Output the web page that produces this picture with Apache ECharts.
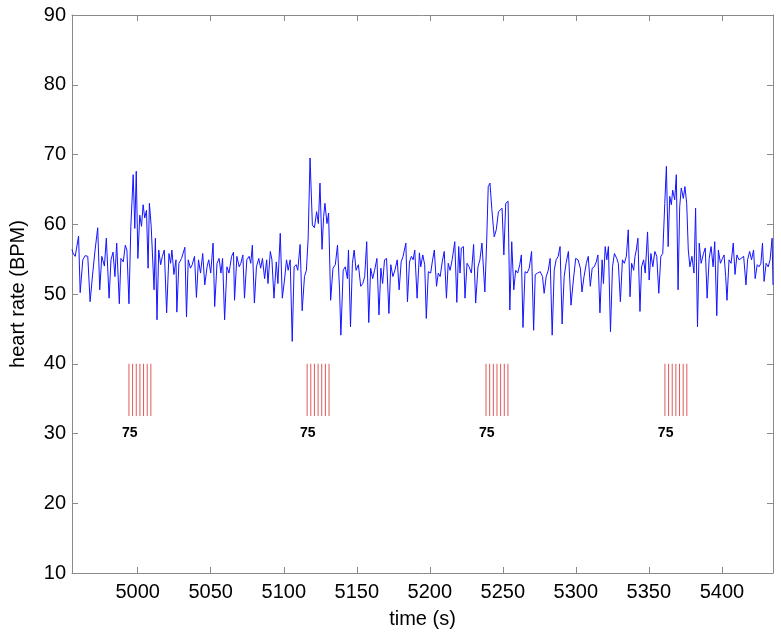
<!DOCTYPE html>
<html>
<head>
<meta charset="utf-8">
<script src="https://cdn.jsdelivr.net/npm/echarts@6/dist/echarts.min.js"></script>
<style>
  html, body { margin: 0; padding: 0; background: #fff; }
  #chart { width: 781px; height: 637px; }
</style>
</head>
<body>
<div id="chart"></div>
<script>
/* heart rate trace */
let hrTime = [
    4955.0, 4955.6, 4957.2, 4959.5, 4960.6, 4962.4, 4964.0, 4965.8, 4967.4, 4969.2,
    4970.8, 4972.6, 4974.0, 4975.4, 4977.2, 4978.5, 4980.4, 4981.7, 4983.1, 4984.4,
    4985.6, 4987.4, 4988.5, 4990.1, 4991.5, 4992.6, 4994.0, 4995.3, 4996.9, 4998.0,
    4999.0, 5000.1, 5001.4, 5002.6, 5003.7, 5004.8, 5006.0, 5007.1, 5008.0, 5009.2,
    5010.3, 5011.2, 5012.1, 5013.2, 5014.4, 5015.7, 5016.9, 5018.2, 5019.8, 5021.4,
    5022.5, 5023.4, 5024.8, 5026.2, 5026.8, 5028.2, 5030.0, 5032.3, 5033.4, 5034.6,
    5036.1, 5037.3, 5038.9, 5040.2, 5041.6, 5043.0, 5044.5, 5045.9, 5047.5, 5048.6,
    5050.0, 5051.6, 5052.7, 5054.3, 5055.7, 5057.0, 5058.1, 5059.5, 5061.1, 5062.5,
    5064.3, 5065.6, 5066.3, 5067.9, 5069.5, 5070.6, 5072.0, 5073.1, 5074.7, 5076.3,
    5077.4, 5078.5, 5079.9, 5081.3, 5082.9, 5084.2, 5085.4, 5086.9, 5088.3, 5089.2,
    5090.8, 5091.9, 5093.3, 5094.9, 5096.0, 5097.6, 5099.0, 5100.5, 5101.9, 5103.0,
    5104.4, 5105.8, 5107.1, 5108.5, 5109.6, 5111.2, 5112.6, 5114.2, 5115.5, 5116.7,
    5118.0, 5119.6, 5121.0, 5122.5, 5123.7, 5124.8, 5126.2, 5127.3, 5128.2, 5129.6,
    5130.7, 5132.1, 5133.7, 5135.3, 5136.8, 5138.2, 5139.1, 5140.7, 5142.1, 5143.6,
    5144.3, 5145.7, 5147.0, 5148.2, 5149.5, 5151.1, 5152.7, 5154.1, 5155.4, 5156.8,
    5158.2, 5159.5, 5160.9, 5162.2, 5163.8, 5165.2, 5166.5, 5167.7, 5169.0, 5170.4,
    5172.0, 5173.3, 5174.7, 5176.1, 5177.7, 5179.0, 5180.4, 5181.7, 5183.6, 5184.7,
    5186.1, 5187.4, 5188.6, 5189.7, 5191.3, 5192.9, 5193.8, 5195.2, 5196.5, 5197.6,
    5199.0, 5200.6, 5201.7, 5203.1, 5204.6, 5205.8, 5207.1, 5208.5, 5209.9, 5211.4,
    5212.6, 5213.9, 5215.3, 5217.1, 5218.5, 5219.8, 5220.7, 5221.6, 5223.0, 5224.1,
    5225.5, 5226.9, 5228.5, 5230.0, 5231.4, 5233.0, 5234.3, 5235.7, 5236.8, 5237.7,
    5238.9, 5240.0, 5241.2, 5242.5, 5244.1, 5245.5, 5247.0, 5248.2, 5249.5, 5250.7,
    5252.0, 5253.6, 5254.8, 5256.1, 5257.5, 5258.8, 5260.2, 5261.6, 5262.7, 5263.8,
    5265.2, 5266.6, 5268.1, 5269.7, 5271.1, 5272.2, 5273.8, 5275.6, 5277.2, 5278.3,
    5279.7, 5281.1, 5282.4, 5283.8, 5285.2, 5286.5, 5287.9, 5289.2, 5290.6, 5292.0,
    5293.3, 5294.9, 5296.7, 5298.3, 5299.9, 5301.5, 5303.1, 5304.2, 5305.6, 5307.2,
    5308.5, 5309.9, 5311.2, 5312.6, 5314.0, 5315.1, 5316.5, 5318.0,
    5318.9, 5320.1, 5321.2, 5322.3, 5323.7, 5325.1, 5326.4, 5328.0, 5329.1, 5330.5,
    5331.9, 5333.2, 5334.6, 5335.9, 5337.1, 5338.2, 5339.6, 5340.5, 5341.4, 5342.5,
    5343.9, 5345.0, 5346.4, 5347.5, 5349.1, 5350.2, 5351.4, 5352.7, 5354.1, 5355.4,
    5356.8, 5358.2, 5359.5, 5360.9, 5362.0, 5363.2, 5364.3, 5365.4, 5366.3, 5367.7,
    5368.8, 5370.0, 5371.1, 5372.2, 5373.6, 5374.7, 5375.9, 5377.0, 5378.1, 5379.5,
    5380.9, 5382.0, 5383.3, 5384.5, 5385.8, 5387.4, 5388.6, 5389.9, 5391.3, 5392.6,
    5394.0, 5395.1, 5396.5, 5397.6, 5399.0, 5400.4, 5401.5, 5402.6, 5403.5, 5404.9,
    5406.3, 5407.8, 5409.0, 5410.3, 5411.7, 5413.1, 5414.9, 5416.5, 5417.6, 5419.0,
    5420.3, 5421.7, 5422.8, 5424.2, 5425.5, 5426.7, 5427.8, 5428.9, 5430.3, 5431.7,
    5433.0, 5434.4, 5435.0
];
let hrValue = [
    56.4, 55.9, 55.4, 58.3, 50.2, 54.9, 55.5, 55.4, 48.9, 53.0,
    56.3, 59.5, 50.6, 55.4, 54.0, 58.0, 49.4, 54.9, 56.0, 52.5,
    57.3, 48.6, 55.1, 54.6, 57.0, 56.3, 48.6, 59.7, 67.1, 59.4,
    67.6, 55.1, 61.3, 59.7, 62.8, 60.9, 62.0, 53.7, 63.0, 59.8,
    59.7, 50.6, 58.0, 46.3, 56.3, 54.2, 55.4, 56.3, 47.3, 55.8,
    54.4, 56.3, 52.8, 54.9, 47.4, 54.4, 55.1, 56.7, 46.7, 54.9,
    53.7, 54.2, 55.4, 49.5, 54.9, 53.0, 55.8, 51.3, 53.9, 54.9,
    53.0, 57.3, 48.2, 54.4, 55.1, 53.0, 55.1, 46.3, 53.9, 53.0,
    55.4, 56.0, 49.1, 55.4, 53.9, 54.4, 55.6, 49.4, 54.9, 55.4,
    54.4, 57.0, 48.7, 53.9, 55.1, 53.7, 55.1, 52.2, 54.9, 51.5,
    56.1, 54.9, 49.4, 54.6, 51.5, 58.7, 49.4, 52.0, 54.9, 53.4,
    54.9, 43.2, 53.9, 54.2, 53.4, 57.1, 47.6, 52.5, 53.4, 58.0,
    69.5, 59.9, 59.5, 61.8, 60.1, 65.9, 56.4, 61.1, 63.0, 60.1,
    61.6, 49.1, 53.7, 54.2, 57.0, 50.6, 44.1, 53.4, 53.9, 52.2,
    56.3, 45.3, 54.4, 56.3, 53.4, 54.2, 51.1, 51.5, 52.5, 57.5,
    45.9, 53.7, 52.2, 53.4, 55.1, 47.0, 53.7, 51.5, 54.9, 55.1,
    47.2, 54.2, 52.5, 53.4, 54.9, 50.6, 54.6, 55.4, 57.3, 48.9,
    54.6, 55.4, 54.9, 56.3, 49.4, 55.9, 53.9, 55.6, 54.2, 46.5,
    53.2, 53.0, 54.6, 56.3, 51.1, 53.0, 52.5, 54.6, 56.1, 49.4,
    54.4, 53.4, 54.9, 57.5, 48.8, 56.8, 53.0, 56.6, 56.8, 49.4,
    54.4, 53.9, 53.0, 57.1, 48.7, 53.9, 54.9, 57.3, 57.5, 50.3,
    57.3, 65.4, 65.9, 62.1, 58.2, 59.2, 61.8, 61.6, 62.3, 55.6,
    63.0, 63.3, 47.7, 57.5, 50.6, 53.4, 53.0, 54.2, 55.6, 45.2,
    53.2, 53.0, 53.7, 56.1, 44.8, 52.8, 53.0, 53.2, 52.5, 50.1,
    52.5, 53.4, 55.1, 44.1, 53.4, 54.9, 55.4, 56.8, 45.7, 52.5,
    54.4, 56.1, 48.4, 52.0, 55.1, 54.9, 53.7, 50.3, 52.5, 54.4,
    55.4, 51.1, 53.7, 53.9, 54.6, 55.6, 47.3, 54.9,
    51.5, 56.8, 54.9, 56.8, 44.6, 53.9, 55.8, 55.1, 54.4, 48.9,
    54.9, 54.4, 55.4, 59.2, 49.6, 54.4, 53.4, 55.4, 56.3, 58.0,
    47.5, 53.9, 54.9, 53.0, 58.9, 52.0, 55.8, 53.9, 56.1, 55.4,
    50.1, 55.4, 55.8, 63.0, 68.3, 56.8, 64.0, 62.8, 64.9, 63.5,
    67.1, 50.6, 62.5, 65.2, 63.7, 65.4, 63.0, 56.3, 53.9, 55.4,
    53.0, 62.3, 45.3, 57.3, 54.4, 55.8, 56.6, 49.4, 55.1, 56.8,
    53.9, 57.5, 46.9, 56.3, 54.4, 55.1, 55.6, 52.5, 49.1, 54.9,
    54.4, 57.3, 52.8, 55.6, 54.9, 55.1, 55.4, 51.3, 54.9, 56.1,
    54.9, 56.3, 52.2, 54.2, 53.9, 54.4, 57.3, 51.8, 54.4, 53.9,
    54.9, 58.0, 51.3
];

/* stimulus bursts: onset of each burst, pulse offsets inside a burst, label */
let burstOnset = [4994, 5116, 5238.5, 5361];
let pulseOffset = [0, 2.5, 5, 7.5, 10, 12.5, 15];
let burstLabel = ['75', '75', '75', '75'];
let pulseRange = [32.5, 40];
let labelLevel = 30;

/* axes */
let xMin = 4955, xMax = 5435;
let xTicks = [5000, 5050, 5100, 5150, 5200, 5250, 5300, 5350, 5400];
let yMin = 10, yMax = 90, yStep = 10;

let hrData = hrTime.map((t, i) => [t, hrValue[i]]);
let pulseData = [];
burstOnset.forEach(t0 => pulseOffset.forEach(dt => pulseData.push([t0 + dt])));
let labelData = burstOnset.map((t0, i) => ({ value: [t0 + 0.5, labelLevel], name: burstLabel[i] }));

const font = '"Liberation Sans", Arial, Helvetica, sans-serif';
const axisGray = '#8a8a8a';

var chart = echarts.init(document.getElementById('chart'));
option = {
    backgroundColor: '#ffffff',
    animation: false,
    grid: {
        left: 67,
        right: 8,
        top: 15,
        bottom: 64
    },
    xAxis: [
        {
            type: 'value',
            min: xMin,
            max: xMax,
            name: 'time (s)',
            nameLocation: 'middle',
            nameGap: 36,
            nameTextStyle: { fontFamily: font, fontSize: 20, color: '#000' },
            axisLine: { lineStyle: { color: axisGray, width: 1 } },
            axisTick: { inside: true, length: 6, customValues: xTicks, lineStyle: { color: axisGray } },
            axisLabel: {
                customValues: xTicks,
                formatter: v => String(v),
                fontFamily: font, fontSize: 20, color: '#000', margin: 9
            },
            splitLine: { show: false }
        },
        {
            type: 'value',
            position: 'top',
            min: xMin,
            max: xMax,
            axisLine: { lineStyle: { color: axisGray, width: 1 } },
            axisTick: { inside: true, length: 6, customValues: xTicks, lineStyle: { color: axisGray } },
            axisLabel: { show: false },
            splitLine: { show: false }
        }
    ],
    yAxis: [
        {
            type: 'value',
            min: yMin,
            max: yMax,
            interval: yStep,
            name: 'heart rate (BPM)',
            nameLocation: 'middle',
            nameGap: 44,
            nameTextStyle: { fontFamily: font, fontSize: 20, color: '#000' },
            axisLine: { show: true, lineStyle: { color: axisGray, width: 1 } },
            axisTick: { show: true, inside: true, length: 6, lineStyle: { color: axisGray } },
            axisLabel: { fontFamily: font, fontSize: 20, color: '#000', margin: 6 },
            splitLine: { show: false }
        },
        {
            type: 'value',
            position: 'right',
            min: yMin,
            max: yMax,
            interval: yStep,
            axisLine: { show: true, lineStyle: { color: axisGray, width: 1 } },
            axisTick: { show: true, inside: true, length: 6, lineStyle: { color: axisGray } },
            axisLabel: { show: false },
            splitLine: { show: false }
        }
    ],
    series: [
        {
            name: 'heart rate',
            type: 'line',
            data: hrData,
            symbol: 'none',
            lineStyle: { color: '#1414ff', width: 1 },
            z: 3
        },
        {
            name: 'stim',
            type: 'custom',
            data: pulseData,
            renderItem: function (params, api) {
                let t = api.value(0);
                let p1 = api.coord([t, pulseRange[1]]);
                let p2 = api.coord([t, pulseRange[0]]);
                return {
                    type: 'line',
                    shape: { x1: p1[0], y1: p1[1], x2: p2[0], y2: p2[1] },
                    style: { stroke: '#e05a5a', lineWidth: 1 }
                };
            },
            z: 2
        },
        {
            name: 'labels',
            type: 'scatter',
            data: labelData,
            symbolSize: 0,
            itemStyle: { opacity: 1 },
            label: {
                show: true,
                position: 'inside',
                formatter: p => p.name,
                fontFamily: font,
                fontWeight: 'bold',
                fontSize: 14,
                color: '#000'
            },
            z: 4
        }
    ]
};
chart.setOption(option);
</script>
</body>
</html>
